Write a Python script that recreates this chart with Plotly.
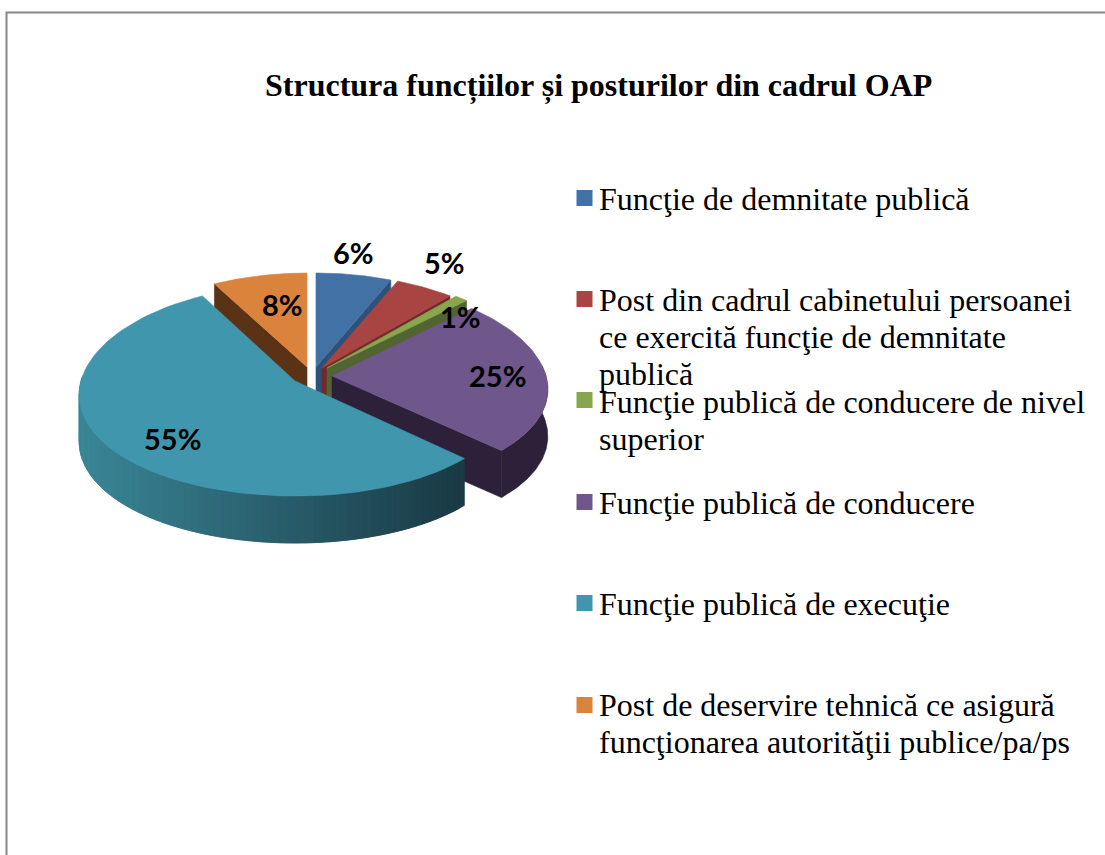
import numpy as np
import plotly.graph_objects as go

# ---- data ----
title = "Structura funcțiilor și posturilor din cadrul OAP"
categories = [
    ["Funcţie de demnitate publică"],
    ["Post din cadrul cabinetului persoanei", "ce exercită funcţie de demnitate", "publică"],
    ["Funcţie publică de conducere de nivel", "superior"],
    ["Funcţie publică de conducere"],
    ["Funcţie publică de execuţie"],
    ["Post de deservire tehnică ce asigură", "funcţionarea autorităţii publice/pa/ps"],
]
values = [6.4, 5.0, 1.2, 24.6, 54.8, 8.0]

# ---- styling / layout ----
top_colors = ["#4271A6", "#A84442", "#88A74C", "#6F568B", "#3F96AD", "#DA833C"]
side_colors = ["#2F5078", "#702C2B", "#526432", "#2C2139", "#1A3A45", "#5A3216"]
teal_rim_left, teal_rim_right = np.array([58, 135, 152]), np.array([26, 58, 69])

centers = [(316, 367), (322, 368), (327, 368), (332, 376), (295, 381), (307, 367)]
RX, DEPTH, KX = 214, 47, 0.13
slice_ry = [101.5, 101.5, 101.5, 101.5, 104.7, 101.5]
slice_ky = [0.08, 0.08, 0.08, 0.08, 0.09, 0.08]

label_texts = [f"{round(v)}%" for v in values]
label_nudge = [(0, -22), (20, -25), (0, 18), (-48, 0), (62, -10), (23, 29)]

legend_x, legend_text_x = 584.5, 599
legend_y = [198, 299, 400, 502, 603, 705]
legend_first_line_y = [199, 300, 402, 503, 604, 705]
LINE_H = 37
LEGEND_FONT, TITLE_FONT, LABEL_FONT = 32, 32, 29


def project(theta, i):
    X, Y = np.sin(theta), -np.cos(theta)
    return (centers[i][0] + RX * X / (1 - KX * Y),
            centers[i][1] + slice_ry[i] * Y / (1 - slice_ky[i] * Y))


def poly(fig, x, y, color):
    fig.add_trace(go.Scatter(x=list(x), y=list(y), mode="lines", fill="toself",
                             fillcolor=color, line=dict(color=color, width=0.6),
                             hoverinfo="skip", showlegend=False))


def arc(a0, a1, n=80):
    return np.linspace(a0, a1, n)


fig = go.Figure()

# frame
fig.add_trace(go.Scatter(x=[6.5, 6.5, 1105], y=[855, 12.5, 12.5], mode="lines",
                         line=dict(color="#868686", width=2), hoverinfo="skip", showlegend=False))

edges = np.cumsum([0] + values) / sum(values) * 2 * np.pi


def top_face(i):
    t = arc(edges[i], edges[i + 1])
    x, y = project(t, i)
    poly(fig, [centers[i][0], *x, centers[i][0]], [centers[i][1], *y, centers[i][1]], top_colors[i])


def cut_face(i, angle):
    c = centers[i]
    ex, ey = project(angle, i)
    poly(fig, [c[0], ex, ex, c[0], c[0]],
         [c[1], ey, ey + DEPTH, c[1] + DEPTH, c[1]], side_colors[i])


# orange, at the back-left
cut_face(5, edges[5])
top_face(5)
# blue, red, green: the end cut of each shows beside the next slice
for i in (0, 1, 2):
    cut_face(i, edges[i + 1])
    top_face(i)

# purple: rim + end cut + top
t = arc(np.pi / 2 - 0.1, edges[4])
x, y = project(t, 3)
poly(fig, [*x, *x[::-1], x[0]], [*y, *(y[::-1] + DEPTH), y[0]], side_colors[3])
cut_face(3, edges[4])
top_face(3)

# teal: gradient rim (overlapping strips, so no seams show), then top
n_strips = 70
rim_edges = np.linspace(edges[4], 3 * np.pi / 2 + 0.05, n_strips + 1)
xs_all, _ = project(rim_edges, 4)
x_min, x_max = xs_all.min(), xs_all.max()
for k in range(n_strips):
    t = arc(rim_edges[k], rim_edges[min(k + 2, n_strips)], 6)
    x, y = project(t, 4)
    xm, _ = project(rim_edges[k], 4)
    f = (xm - x_min) / (x_max - x_min)
    c = teal_rim_left * (1 - f) + teal_rim_right * f
    poly(fig, [*x, *x[::-1], x[0]], [*y, *(y[::-1] + DEPTH), y[0]],
         "rgb(%d,%d,%d)" % tuple(c))
top_face(4)

# legend keys
fig.add_trace(go.Scatter(x=[legend_x] * len(categories), y=legend_y, mode="markers",
                         marker=dict(symbol="square", size=16, color=top_colors, line=dict(width=0)),
                         hoverinfo="skip", showlegend=False))

annotations = []
# data labels
for i, txt in enumerate(label_texts):
    mid = (edges[i] + edges[i + 1]) / 2
    lx, ly = project(mid, i)
    annotations.append(dict(x=lx + label_nudge[i][0], y=ly + label_nudge[i][1], text=f"<b>{txt}</b>",
                            showarrow=False, xanchor="center", yanchor="middle",
                            font=dict(family="Lato", size=LABEL_FONT, color="#000000")))
# legend text
for i, lines in enumerate(categories):
    for j, line in enumerate(lines):
        annotations.append(dict(x=legend_text_x, y=legend_first_line_y[i] + j * LINE_H, text=line,
                                showarrow=False, xanchor="left", yanchor="middle", xshift=-2,
                                font=dict(family="Liberation Serif", size=LEGEND_FONT, color="#000000")))
# title
annotations.append(dict(x=598, y=85, text=f"<b>{title}</b>", showarrow=False,
                        xanchor="center", yanchor="middle",
                        font=dict(family="Liberation Serif", size=TITLE_FONT, color="#000000")))

fig.update_layout(
    width=1105, height=855, margin=dict(l=0, r=0, t=0, b=0),
    paper_bgcolor="white", plot_bgcolor="white", showlegend=False,
    xaxis=dict(range=[0, 1105], visible=False, fixedrange=True),
    yaxis=dict(range=[855, 0], visible=False, fixedrange=True),
    annotations=annotations,
)
fig.write_html("out.html", config={"displayModeBar": False},
               post_script="document.body.style.margin='0';document.body.style.overflow='hidden';")
